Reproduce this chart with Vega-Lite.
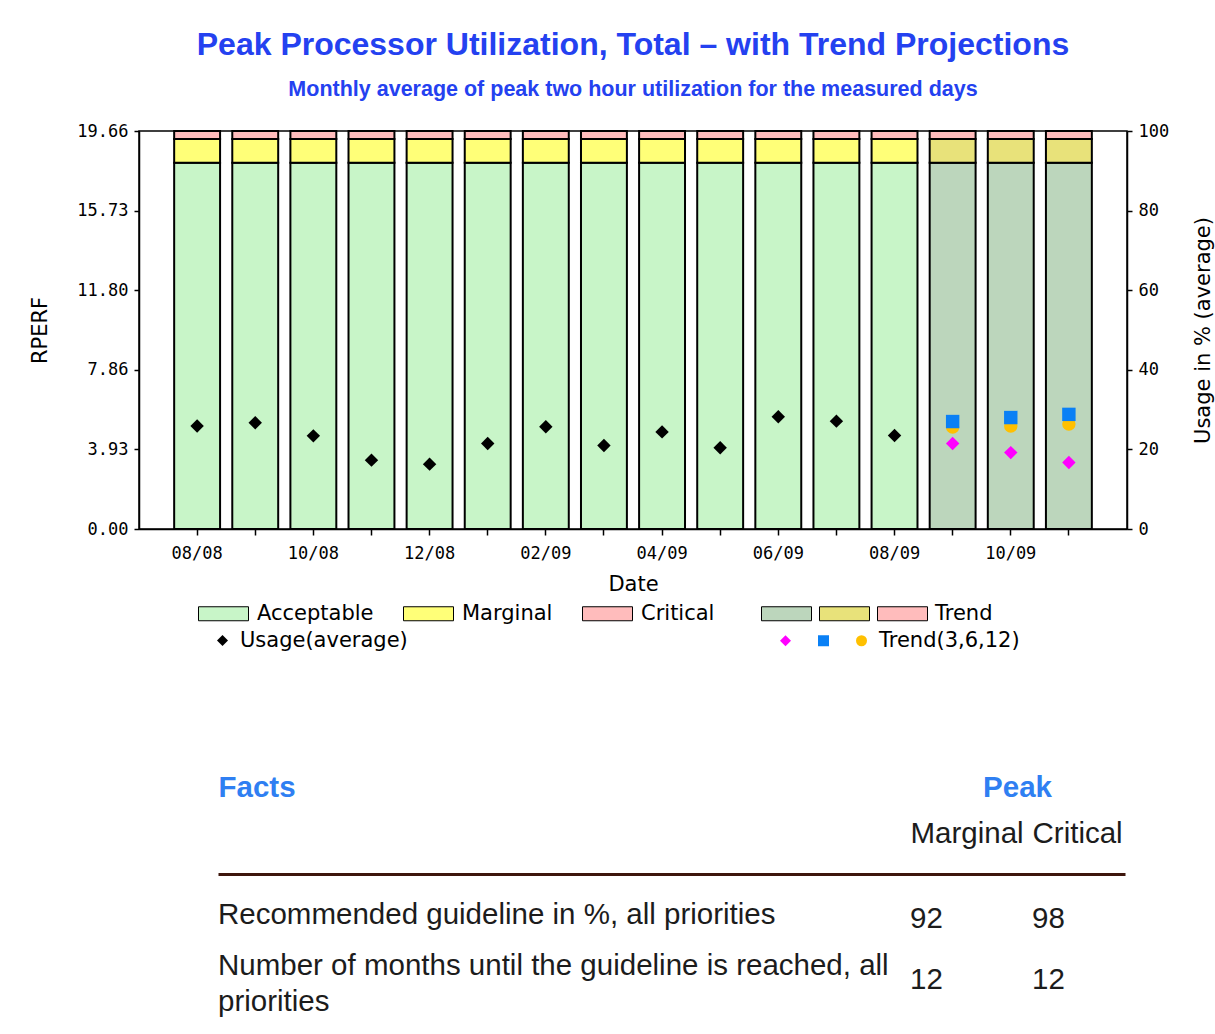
{
  "$schema": "https://vega.github.io/schema/vega-lite/v6.json",
  "background": "white",
  "padding": {"left": 29, "top": 27, "right": 0, "bottom": 0},
  "config": {
    "font": "DejaVu Sans",
    "view": {"stroke": "black", "strokeWidth": 1.5},
    "axis": {"grid": false, "domainColor": "black", "domainWidth": 1.5, "tickColor": "black", "tickWidth": 1.5, "labelColor": "black", "titleColor": "black", "titleFontWeight": "normal", "titleFont": "DejaVu Sans", "titleFontSize": 21, "labelFont": "DejaVu Sans Mono", "labelFontSize": 17},
    "legend": {"labelFont": "DejaVu Sans", "labelFontSize": 21, "labelColor": "black", "padding": 0, "labelLimit": 2000}
  },
  "datasets": {
    "bars": [
      {"month": "08/08", "zone": "Acceptable", "low": 0, "high": 18.087},
      {"month": "08/08", "zone": "Marginal", "low": 18.087, "high": 19.267},
      {"month": "08/08", "zone": "Critical", "low": 19.267, "high": 19.66},
      {"month": "09/08", "zone": "Acceptable", "low": 0, "high": 18.087},
      {"month": "09/08", "zone": "Marginal", "low": 18.087, "high": 19.267},
      {"month": "09/08", "zone": "Critical", "low": 19.267, "high": 19.66},
      {"month": "10/08", "zone": "Acceptable", "low": 0, "high": 18.087},
      {"month": "10/08", "zone": "Marginal", "low": 18.087, "high": 19.267},
      {"month": "10/08", "zone": "Critical", "low": 19.267, "high": 19.66},
      {"month": "11/08", "zone": "Acceptable", "low": 0, "high": 18.087},
      {"month": "11/08", "zone": "Marginal", "low": 18.087, "high": 19.267},
      {"month": "11/08", "zone": "Critical", "low": 19.267, "high": 19.66},
      {"month": "12/08", "zone": "Acceptable", "low": 0, "high": 18.087},
      {"month": "12/08", "zone": "Marginal", "low": 18.087, "high": 19.267},
      {"month": "12/08", "zone": "Critical", "low": 19.267, "high": 19.66},
      {"month": "01/09", "zone": "Acceptable", "low": 0, "high": 18.087},
      {"month": "01/09", "zone": "Marginal", "low": 18.087, "high": 19.267},
      {"month": "01/09", "zone": "Critical", "low": 19.267, "high": 19.66},
      {"month": "02/09", "zone": "Acceptable", "low": 0, "high": 18.087},
      {"month": "02/09", "zone": "Marginal", "low": 18.087, "high": 19.267},
      {"month": "02/09", "zone": "Critical", "low": 19.267, "high": 19.66},
      {"month": "03/09", "zone": "Acceptable", "low": 0, "high": 18.087},
      {"month": "03/09", "zone": "Marginal", "low": 18.087, "high": 19.267},
      {"month": "03/09", "zone": "Critical", "low": 19.267, "high": 19.66},
      {"month": "04/09", "zone": "Acceptable", "low": 0, "high": 18.087},
      {"month": "04/09", "zone": "Marginal", "low": 18.087, "high": 19.267},
      {"month": "04/09", "zone": "Critical", "low": 19.267, "high": 19.66},
      {"month": "05/09", "zone": "Acceptable", "low": 0, "high": 18.087},
      {"month": "05/09", "zone": "Marginal", "low": 18.087, "high": 19.267},
      {"month": "05/09", "zone": "Critical", "low": 19.267, "high": 19.66},
      {"month": "06/09", "zone": "Acceptable", "low": 0, "high": 18.087},
      {"month": "06/09", "zone": "Marginal", "low": 18.087, "high": 19.267},
      {"month": "06/09", "zone": "Critical", "low": 19.267, "high": 19.66},
      {"month": "07/09", "zone": "Acceptable", "low": 0, "high": 18.087},
      {"month": "07/09", "zone": "Marginal", "low": 18.087, "high": 19.267},
      {"month": "07/09", "zone": "Critical", "low": 19.267, "high": 19.66},
      {"month": "08/09", "zone": "Acceptable", "low": 0, "high": 18.087},
      {"month": "08/09", "zone": "Marginal", "low": 18.087, "high": 19.267},
      {"month": "08/09", "zone": "Critical", "low": 19.267, "high": 19.66},
      {"month": "09/09", "zone": "Trend Acceptable", "low": 0, "high": 18.087},
      {"month": "09/09", "zone": "Trend Marginal", "low": 18.087, "high": 19.267},
      {"month": "09/09", "zone": "Trend Critical", "low": 19.267, "high": 19.66},
      {"month": "10/09", "zone": "Trend Acceptable", "low": 0, "high": 18.087},
      {"month": "10/09", "zone": "Trend Marginal", "low": 18.087, "high": 19.267},
      {"month": "10/09", "zone": "Trend Critical", "low": 19.267, "high": 19.66},
      {"month": "11/09", "zone": "Trend Acceptable", "low": 0, "high": 18.087},
      {"month": "11/09", "zone": "Trend Marginal", "low": 18.087, "high": 19.267},
      {"month": "11/09", "zone": "Trend Critical", "low": 19.267, "high": 19.66}
    ],
    "points": [
      {"month": "08/08", "series": "Usage(average)", "pct": 25.9},
      {"month": "09/08", "series": "Usage(average)", "pct": 26.7},
      {"month": "10/08", "series": "Usage(average)", "pct": 23.4},
      {"month": "11/08", "series": "Usage(average)", "pct": 17.3},
      {"month": "12/08", "series": "Usage(average)", "pct": 16.3},
      {"month": "01/09", "series": "Usage(average)", "pct": 21.5},
      {"month": "02/09", "series": "Usage(average)", "pct": 25.7},
      {"month": "03/09", "series": "Usage(average)", "pct": 21.0},
      {"month": "04/09", "series": "Usage(average)", "pct": 24.4},
      {"month": "05/09", "series": "Usage(average)", "pct": 20.4},
      {"month": "06/09", "series": "Usage(average)", "pct": 28.2},
      {"month": "07/09", "series": "Usage(average)", "pct": 27.1},
      {"month": "08/09", "series": "Usage(average)", "pct": 23.5},
      {"month": "09/09", "series": "Trend 12", "pct": 25.6},
      {"month": "10/09", "series": "Trend 12", "pct": 25.9},
      {"month": "11/09", "series": "Trend 12", "pct": 26.4},
      {"month": "09/09", "series": "Trend 6", "pct": 27.0},
      {"month": "10/09", "series": "Trend 6", "pct": 28.0},
      {"month": "11/09", "series": "Trend 6", "pct": 28.8},
      {"month": "09/09", "series": "Trend 3", "pct": 21.5},
      {"month": "10/09", "series": "Trend 3", "pct": 19.2},
      {"month": "11/09", "series": "Trend 3", "pct": 16.7}
    ],
    "facts": [
      {"Facts": "Recommended guideline in %, all priorities", "Marginal": 92, "Critical": 98},
      {"Facts": "Number of months until the guideline is reached, all\npriorities", "Marginal": 12, "Critical": 12}
    ]
  },
  "vconcat": [
    {
      "title": {
        "text": "Peak Processor Utilization, Total \u2013 with Trend Projections",
        "subtitle": "Monthly average of peak two hour utilization for the measured days",
        "anchor": "middle",
        "font": "Liberation Sans", "fontSize": 32, "fontWeight": "bold", "color": "#2441f0",
        "subtitleFont": "Liberation Sans", "subtitleFontSize": 21.5, "subtitleFontWeight": "bold", "subtitleColor": "#2441f0",
        "subtitlePadding": 17, "offset": 21
      },
      "width": 988,
      "height": 398,
      "layer": [
        {
          "data": {"name": "bars"},
          "transform": [{"filter": {"field": "zone", "oneOf": ["Acceptable", "Marginal", "Critical"]}}],
          "mark": {"type": "bar", "stroke": "black", "strokeWidth": 2},
          "encoding": {
            "x": {
              "field": "month", "type": "ordinal",
              "scale": {"type": "band", "domain": ["08/08","09/08","10/08","11/08","12/08","01/09","02/09","03/09","04/09","05/09","06/09","07/09","08/09","09/09","10/09","11/09"], "paddingInner": 0.21, "paddingOuter": 0.605},
              "axis": {"title": "Date", "labelAngle": 0, "tickSize": 6, "labelPadding": 10, "titlePadding": 12, "labelExpr": "toNumber(slice(datum.value, 0, 2)) % 2 == 0 ? datum.label : ''"}
            },
            "y": {
              "field": "low", "type": "quantitative",
              "scale": {"domain": [0, 19.66], "nice": false, "zero": true},
              "axis": {"title": "RPERF", "orient": "left", "values": [0, 3.932, 7.864, 11.796, 15.728, 19.66], "format": ".2f", "tickSize": 5, "labelPadding": 6, "titlePadding": 26}
            },
            "y2": {"field": "high"},
            "fill": {
              "field": "zone", "type": "nominal",
              "scale": {"domain": ["Acceptable", "Marginal", "Critical"], "range": ["#c8f5c8", "#ffff78", "#ffbcbc"]},
              "legend": {
                "title": null, "orient": "none", "legendX": 59, "legendY": 457, "direction": "horizontal",
                "symbolType": "M-1,-0.28L1,-0.28L1,0.28L-1,0.28Z", "symbolSize": 2500,
                "symbolStrokeColor": "black", "symbolStrokeWidth": 1,
                "labelOffset": 8, "columnPadding": 27
              }
            }
          }
        },
        {
          "data": {"name": "bars"},
          "transform": [{"filter": {"field": "zone", "oneOf": ["Trend Acceptable", "Trend Marginal", "Trend Critical"]}}],
          "mark": {"type": "bar", "stroke": "black", "strokeWidth": 2},
          "encoding": {
            "x": {"field": "month", "type": "ordinal"},
            "y": {"field": "low", "type": "quantitative", "scale": {"domain": [0, 19.66], "nice": false, "zero": true}, "axis": null},
            "y2": {"field": "high"},
            "fill": {
              "field": "zone", "type": "nominal",
              "scale": {"domain": ["Trend Acceptable", "Trend Marginal", "Trend Critical"], "range": ["#bcd6bc", "#e8e27a", "#ffbcbc"]},
              "legend": {
                "title": null, "orient": "none", "legendX": 622, "legendY": 457, "direction": "horizontal",
                "symbolType": "M-1,-0.28L1,-0.28L1,0.28L-1,0.28Z", "symbolSize": 2500,
                "symbolStrokeColor": "black", "symbolStrokeWidth": 1,
                "labelOffset": 7, "columnPadding": -3,
                "labelExpr": "datum.label == 'Trend Critical' ? 'Trend' : ''"
              }
            }
          }
        },
        {
          "data": {"name": "points"},
          "transform": [{"filter": {"field": "series", "equal": "Usage(average)"}}],
          "mark": {"type": "point", "filled": true, "size": 180, "opacity": 1},
          "encoding": {
            "x": {"field": "month", "type": "ordinal"},
            "y": {
              "field": "pct", "type": "quantitative",
              "scale": {"domain": [0, 100], "nice": false},
              "axis": {"title": "Usage in % (average)", "orient": "right", "values": [0, 20, 40, 60, 80, 100], "tickSize": 5, "labelPadding": 6, "titlePadding": 24, "titleAngle": 270, "titleBaseline": "top"}
            },
            "color": {
              "field": "series", "type": "nominal",
              "scale": {"domain": ["Usage(average)"], "range": ["#000000"]},
              "legend": {"title": null, "orient": "none", "legendX": 73, "legendY": 499, "symbolSize": 121, "labelOffset": 7, "symbolOpacity": 1}
            },
            "shape": {
              "field": "series", "type": "nominal",
              "scale": {"domain": ["Usage(average)"], "range": ["diamond"]},
              "legend": {"title": null, "orient": "none", "legendX": 73, "legendY": 499, "symbolSize": 121, "labelOffset": 7, "symbolOpacity": 1}
            }
          }
        },
        {
          "data": {"name": "points"},
          "transform": [{"filter": {"field": "series", "oneOf": ["Trend 12", "Trend 6", "Trend 3"]}}],
          "mark": {"type": "point", "filled": true, "size": 180, "opacity": 1},
          "encoding": {
            "x": {"field": "month", "type": "ordinal"},
            "y": {"field": "pct", "type": "quantitative", "scale": {"domain": [0, 100], "nice": false}, "axis": null},
            "color": {
              "field": "series", "type": "nominal",
              "scale": {"domain": ["Trend 3", "Trend 6", "Trend 12"], "range": ["#ff00ff", "#0a80f5", "#ffc000"]},
              "legend": {
                "title": null, "orient": "none", "legendX": 636, "legendY": 499, "direction": "horizontal",
                "symbolSize": 121, "labelOffset": 7, "columnPadding": 10, "symbolOpacity": 1,
                "labelExpr": "datum.label == 'Trend 12' ? 'Trend(3,6,12)' : ''"
              }
            },
            "shape": {
              "field": "series", "type": "nominal",
              "scale": {"domain": ["Trend 3", "Trend 6", "Trend 12"], "range": ["diamond", "square", "circle"]},
              "legend": {
                "title": null, "orient": "none", "legendX": 636, "legendY": 499, "direction": "horizontal",
                "symbolSize": 121, "labelOffset": 7, "columnPadding": 10, "symbolOpacity": 1,
                "labelExpr": "datum.label == 'Trend 12' ? 'Trend(3,6,12)' : ''"
              }
            }
          }
        }
      ],
      "resolve": {"scale": {"y": "independent", "fill": "independent", "color": "independent", "shape": "independent"}}
    },
    {
      "width": 986,
      "height": 151,
      "view": {"stroke": null},
      "data": {"name": "facts"},
      "layer": [
        {
          "transform": [{"fold": ["Facts"], "as": ["column", "text"]}],
          "mark": {"type": "text", "align": "left", "baseline": "middle", "lineBreak": "\n", "lineHeight": 36, "font": "Liberation Sans", "fontSize": 29.5, "color": "#1c1c1c"},
          "encoding": {
            "x": {
              "field": "column", "type": "nominal",
              "scale": {"type": "point", "domain": ["Facts"], "range": [79, 986], "align": 0},
              "axis": {"orient": "top", "title": "Facts", "titleAnchor": "start", "titleAlign": "left", "titleFont": "Liberation Sans", "titleFontSize": 29.5, "titleFontWeight": "bold", "titleColor": "#2f7ff2", "titleBaseline": "alphabetic", "titlePadding": 78, "labels": false, "ticks": false, "domainColor": "#3d160c", "domainWidth": 3}
            },
            "y": {"field": "Facts", "type": "nominal", "sort": null, "scale": {"type": "point", "padding": 1.3415, "align": 0.409}, "axis": null},
            "text": {"field": "text"}
          }
        },
        {
          "transform": [{"fold": ["Marginal", "Critical"], "as": ["column", "value"]}],
          "mark": {"type": "text", "align": "left", "baseline": "middle", "font": "Liberation Sans", "fontSize": 29.5, "color": "#1c1c1c"},
          "encoding": {
            "x": {
              "field": "column", "type": "nominal",
              "scale": {"type": "point", "domain": ["Marginal", "Critical"], "range": [771, 893], "padding": 0},
              "axis": {"orient": "top", "title": "Peak", "titleX": 878, "titleFont": "Liberation Sans", "titleFontSize": 29.5, "titleFontWeight": "bold", "titleColor": "#2f7ff2", "titleBaseline": "alphabetic", "titlePadding": 22, "labelAngle": 0, "labelAlign": "left", "labelFont": "Liberation Sans", "labelFontSize": 29.5, "labelColor": "#1c1c1c", "labelPadding": 26, "ticks": false, "domain": false}
            },
            "y": {"field": "Facts", "type": "nominal", "sort": null, "scale": {"type": "point", "padding": 0.738}, "axis": null},
            "text": {"field": "value"}
          }
        }
      ],
      "resolve": {"scale": {"x": "independent", "y": "independent"}}
    }
  ],
  "spacing": 120
}
